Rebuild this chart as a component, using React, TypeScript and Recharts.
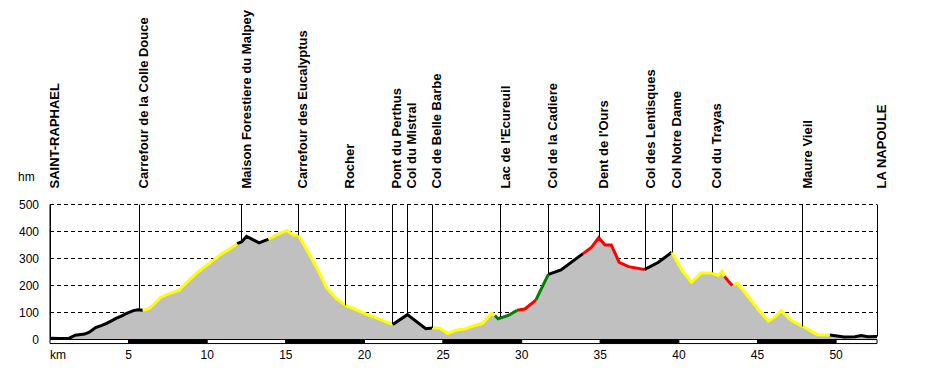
import React from "react";
import {
  ComposedChart,
  Area,
  Line,
  XAxis,
  YAxis,
  CartesianGrid,
  ReferenceLine,
  ReferenceArea,
} from "recharts";

// elevation profile (km, m)
const profileKm = [
  0, 0.6, 1.2, 1.6, 2.2, 2.5, 2.9, 3.3, 3.6, 4.0, 4.2, 4.6, 4.8, 5.3, 5.6, 5.9,
  6.3, 6.6, 7.0, 7.5, 8.0, 8.2, 8.5, 9.0, 9.4, 10.1, 10.9, 11.5, 11.9, 12.2, 12.5,
  13.3, 13.9, 14.5, 15.07, 15.5, 15.8, 16.4, 17.0, 17.6, 18.2, 18.8, 19.4, 20.2,
  21.1, 21.8, 22.73, 23.9, 24.3, 24.8, 25.3, 25.8, 26.4, 27.0, 27.5, 28.1, 28.3,
  28.5, 29.15, 29.7, 30.2, 30.9, 31.3, 31.7, 32.5, 33.9, 34.45, 34.9, 35.3, 35.7,
  36.2, 36.8, 37.8, 38.7, 39.55, 40.2, 40.8, 41.4, 42.1, 42.5, 42.75, 42.9, 43.15,
  43.4, 43.7, 44.4, 45.1, 45.7, 46.1, 46.5, 47.15, 47.9, 48.8, 49.6, 50.5, 51.2,
  51.6, 52.0, 52.6,
];
const profileAlt = [
  5, 4, 4, 16, 20, 27, 44, 52, 60, 72, 78, 88, 95, 107, 110, 108,
  115, 130, 155, 168, 178, 182, 200, 228, 250, 280, 317, 338, 355, 362, 382,
  358, 372, 390, 404, 386, 386, 325, 262, 190, 152, 126, 112, 92,
  72, 56, 92, 40, 43, 42, 22, 34, 40, 52, 60, 98, 89,
  77, 89, 108, 113, 146, 194, 241, 258, 318, 342, 377, 350, 350,
  286, 270, 259, 286, 323, 256, 212, 246, 246, 237, 253, 234, 216,
  200, 209, 159, 107, 68, 83, 107, 70, 48, 18, 17, 9, 10,
  15, 10, 11,
];

// difficulty colouring along the route
const segmentBounds = [
  0, 5.9, 11.9, 13.9, 21.8, 24.3, 28.3, 29.7, 30.9, 31.7, 33.9, 37.8, 39.55,
  42.9, 43.4, 49.6, 52.6,
];
const segmentColors = [
  "black", "yellow", "black", "yellow", "black", "yellow", "green", "red",
  "green", "black", "red", "black", "yellow", "red", "yellow", "black",
];

const waypointNames = [
  "SAINT-RAPHAEL", "Carrefour de la Colle Douce", "Maison Forestiere du Malpey",
  "Carrefour des Eucalyptus", "Rocher", "Pont du Perthus", "Col du Mistral",
  "Col de Belle Barbe", "Lac de l'Ecureuil", "Col de la Cadiere", "Dent de l'Ours",
  "Col des Lentisques", "Col Notre Dame", "Col du Trayas", "Maure Vieil", "LA NAPOULE",
];
const waypointKm = [
  0, 5.69, 12.2, 15.8, 18.77, 21.78, 22.73, 24.32, 28.66, 31.69, 34.93, 37.9,
  39.57, 42.11, 47.89, 52.6,
];
const waypointAlt = [
  5, 110, 358, 386, 126, 56, 92, 43, 83, 241, 377, 259, 323, 249, 48, 11,
];

const kmTicks = [0, 5, 10, 15, 20, 25, 30, 35, 40, 45, 50];
const altTicks = [0, 100, 200, 300, 400, 500];
const bandBounds = [0, 5, 10, 15, 20, 25, 30, 35, 40, 45, 50, 52.6];

const colorHex: Record<string, string> = {
  black: "#000000",
  yellow: "#FFFF00",
  green: "#008000",
  red: "#FF0000",
};

const FONT = "Arial, 'Liberation Sans', sans-serif";

const data = profileKm.map((km, i) => {
  const row: Record<string, number | null> = { km, alt: profileAlt[i] };
  for (const c of Object.keys(colorHex)) row[c] = null;
  for (let s = 0; s < segmentColors.length; s++) {
    if (km >= segmentBounds[s] && km <= segmentBounds[s + 1]) {
      row[segmentColors[s]] = profileAlt[i];
    }
  }
  return row;
});

const KmTick = (props: any) => {
  const { x, y, payload } = props;
  const first = payload.value === 0;
  return (
    <text
      x={x}
      y={y}
      dy="0.71em"
      textAnchor={first ? "start" : "middle"}
      fontSize={12}
      fontFamily={FONT}
      fill="#000"
    >
      {first ? "km" : payload.value}
    </text>
  );
};

// snap the 1px waypoint lines onto the pixel grid so they stay crisp
const CrispLine = (props: any) => {
  const x = Math.floor(props.x1) + 0.5;
  return (
    <line x1={x} y1={props.y1} x2={x} y2={props.y2} stroke="#000" strokeWidth={1} />
  );
};

const WaypointLabel = (name: string) => (props: any) => {
  const { viewBox } = props;
  const x = viewBox.x + 9;
  const y = viewBox.y - 16;
  return (
    <text
      x={x}
      y={y}
      transform={`rotate(-90 ${x} ${y})`}
      textAnchor="start"
      fontSize={13}
      fontWeight="bold"
      fontFamily={FONT}
      fill="#000"
    >
      {name}
    </text>
  );
};

const HmLabel = (props: any) => {
  const { viewBox } = props;
  return (
    <text
      x={viewBox.x + 18}
      y={viewBox.y - 24}
      fontSize={12}
      fontFamily={FONT}
      fill="#000"
    >
      hm
    </text>
  );
};

export default function App() {
  return (
    <div style={{ position: "absolute", left: 0, top: 0, background: "#fff" }}>
      <ComposedChart
        width={927}
        height={370}
        data={data}
        margin={{ top: 204.5, right: 50, bottom: 0, left: 0 }}
      >
        <CartesianGrid
          vertical={false}
          stroke="#000"
          strokeDasharray="4 3"
        />
        <XAxis
          dataKey="km"
          type="number"
          domain={[0, 52.6]}
          ticks={kmTicks}
          height={30.5}
          axisLine={false}
          tickLine={false}
          tickSize={0}
          tickMargin={11}
          tick={<KmTick />}
          interval={0}
        />
        <YAxis
          type="number"
          domain={[0, 500]}
          ticks={altTicks}
          width={50}
          axisLine={{ stroke: "#000" }}
          tickLine={false}
          tickSize={0}
          tickMargin={11}
          tick={{ fontSize: 12, fontFamily: FONT, fill: "#000" }}
          label={<HmLabel />}
        />
        <Area
          dataKey="alt"
          type="linear"
          fill="#C0C0C0"
          fillOpacity={1}
          stroke="none"
          isAnimationActive={false}
        />
        {Object.keys(colorHex).map((c) => (
          <Line
            key={c}
            dataKey={c}
            type="linear"
            stroke={colorHex[c]}
            strokeWidth={3}
            dot={false}
            activeDot={false}
            connectNulls={false}
            isAnimationActive={false}
          />
        ))}
        {bandBounds.slice(0, -1).map((b, i) => (
          <ReferenceArea
            key={`band${i}`}
            x1={b}
            x2={bandBounds[i + 1]}
            y1={-15}
            y2={0}
            ifOverflow="visible"
            fill={i % 2 === 0 ? "#fff" : "#000"}
            fillOpacity={1}
            stroke="#000"
            strokeWidth={1}
          />
        ))}
        {waypointNames.map((name, i) => (
          <ReferenceLine
            key={name}
            segment={[
              { x: waypointKm[i], y: 500 },
              { x: waypointKm[i], y: waypointAlt[i] },
            ]}
            stroke="#000"
            strokeWidth={1}
            ifOverflow="visible"
            shape={CrispLine}
            label={WaypointLabel(name)}
          />
        ))}
      </ComposedChart>
    </div>
  );
}
